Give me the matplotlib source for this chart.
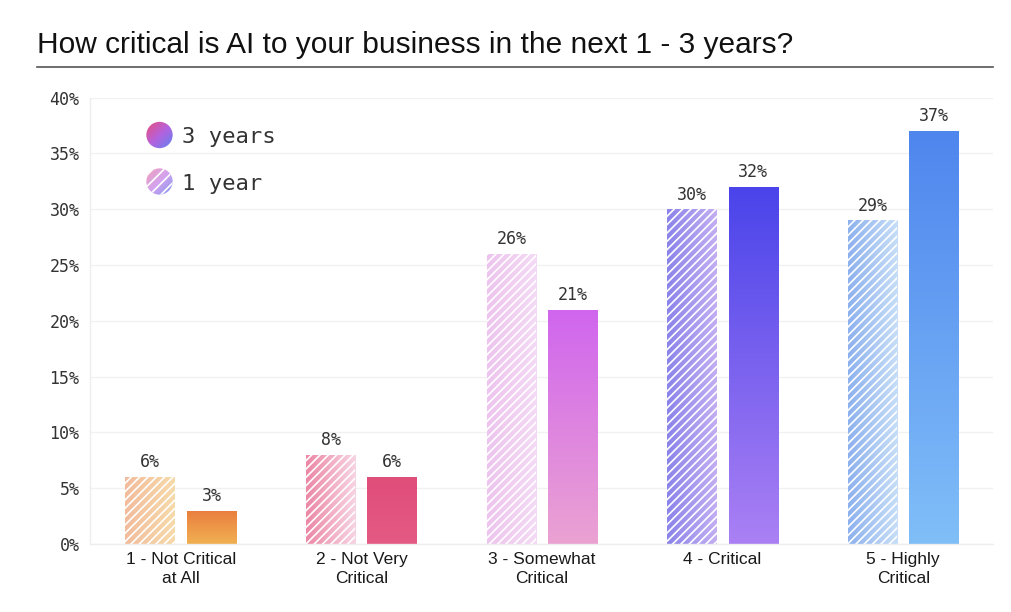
import matplotlib
matplotlib.use("Agg")
import matplotlib.pyplot as plt
import numpy as np
from matplotlib.colors import to_rgb
from matplotlib.patches import Circle


categories = [
    "1 - Not Critical\nat All",
    "2 - Not Very\nCritical",
    "3 - Somewhat\nCritical",
    "4 - Critical",
    "5 - Highly\nCritical",
]
one_year = [6, 8, 26, 30, 29]
three_years = [3, 6, 21, 32, 37]
y_ticks = [0, 5, 10, 15, 20, 25, 30, 35, 40]

# gradient stops for each category (hatched bar: left -> right, solid bar: top -> bottom)
hatch_left = ["#F2BC9C", "#EC88A6", "#EEC4EE", "#8C84EA", "#8EB2EE"]
hatch_right = ["#F7DAAA", "#F7D4E2", "#F4DAF4", "#C2AEF2", "#C6DEF7"]
solid_top = ["#E97E3E", "#E04E7A", "#D066EE", "#4A44EA", "#4F86EE"]
solid_bottom = ["#F1B052", "#E45A84", "#EBA2D2", "#AA80F4", "#80BEF8"]

title = "How critical is AI to your business in the next 1 - 3 years?"

plt.rcParams["hatch.linewidth"] = 1.2

W, H = 1012, 612
fig = plt.figure(figsize=(W / 100, H / 100), dpi=100)
fig.patch.set_facecolor("white")

ax = fig.add_axes([90.5 / W, 68 / H, 903 / W, 446.5 / H])

width = 0.274
offset = 0.17
x = np.arange(len(categories))


def gradient(c1, c2, n=64):
    a = np.array(to_rgb(c1))
    b = np.array(to_rgb(c2))
    t = np.linspace(0, 1, n)[:, None]
    return a + (b - a) * t


def fill_bar(bar, img):
    x0 = bar.get_x()
    x1 = x0 + bar.get_width()
    h = bar.get_height()
    im = ax.imshow(img, extent=[x0, x1, 0, h], aspect="auto",
                   interpolation="bicubic", origin="upper", zorder=2)
    im.set_clip_path(bar)


bars_1y = ax.bar(x - offset, one_year, width, color="none", linewidth=0, zorder=2)
bars_3y = ax.bar(x + offset, three_years, width, color="none", linewidth=0, zorder=2)

for i, bar in enumerate(bars_1y):
    g = gradient(hatch_left[i], hatch_right[i])
    fill_bar(bar, g[None, :, :])
    ax.bar(bar.get_x() + bar.get_width() / 2, bar.get_height(), width,
           color="none", edgecolor="white", linewidth=0, hatch="////", zorder=3)

for i, bar in enumerate(bars_3y):
    g = gradient(solid_top[i], solid_bottom[i])
    fill_bar(bar, g[:, None, :])

for bars, vals in [(bars_1y, one_year), (bars_3y, three_years)]:
    for bar, v in zip(bars, vals):
        ax.annotate(f"{v}%", (bar.get_x() + bar.get_width() / 2, v),
                    xytext=(0, 4), textcoords="offset points",
                    ha="center", va="bottom", fontsize=12,
                    family="DejaVu Sans Mono", color="#333333")

ax.set_xlim(-0.5, 4.5)
ax.set_ylim(0, 40)
ax.set_yticks(y_ticks)
ax.set_yticklabels([f"{t}%" for t in y_ticks], family="DejaVu Sans Mono",
                   fontsize=12, color="#333333")
ax.set_xticks(x)
ax.set_xticklabels(categories, family="Liberation Sans", fontsize=12.5,
                   color="#1a1a1a", linespacing=1.3)
ax.tick_params(axis="both", length=0)
ax.tick_params(axis="y", pad=8)
ax.tick_params(axis="x", pad=6)
ax.grid(axis="y", color="#f1f1f1", linewidth=1, zorder=0)
ax.set_axisbelow(True)
for side in ["top", "right"]:
    ax.spines[side].set_visible(False)
for side in ["left", "bottom"]:
    ax.spines[side].set_color("#eeeeee")
    ax.spines[side].set_linewidth(1)

# title and rule
fig.text(37 / W, 1 - 53 / H, title, family="Liberation Sans", fontsize=21.5,
         color="#111111", ha="left", va="baseline")
fig.add_artist(plt.Line2D([37 / W, 993 / W], [1 - 67 / H, 1 - 67 / H],
                          color="#555555", linewidth=1.2))

# legend with gradient circles
legend_items = [("3 years", 135, False), ("1 year", 181.5, True)]
for label, cy, hatched in legend_items:
    r = 14
    cax = fig.add_axes([(159.5 - r) / W, 1 - (cy + r) / H, 2 * r / W, 2 * r / H])
    cax.set_axis_off()
    cax.set_xlim(0, 1)
    cax.set_ylim(0, 1)
    if hatched:
        stops = ["#F2A2B8", "#D4A2EE", "#7C96F0"]
    else:
        stops = ["#EC4E78", "#B462DE", "#5A86F2"]
    n = 64
    u, v = np.meshgrid(np.linspace(0, 1, n), np.linspace(0, 1, n))
    t = (u + v) / 2
    cols = np.array([to_rgb(c) for c in stops])
    img = np.empty((n, n, 3))
    for k in range(3):
        img[..., k] = np.interp(t, [0, 0.5, 1], cols[:, k])
    circ = Circle((0.5, 0.5), 0.47, transform=cax.transData, facecolor="none",
                  linewidth=0)
    cax.add_patch(circ)
    im = cax.imshow(img, extent=[0, 1, 0, 1], origin="upper", aspect="auto",
                    interpolation="bicubic")
    im.set_clip_path(circ)
    if hatched:
        hc = Circle((0.5, 0.5), 0.47, transform=cax.transData, facecolor="none",
                    edgecolor="white", linewidth=0, hatch="///", zorder=3)
        cax.add_patch(hc)
    fig.text(182 / W, 1 - cy / H, label, family="DejaVu Sans Mono", fontsize=16,
             color="#333333", ha="left", va="center_baseline")

fig.savefig("out.png", dpi=100)
